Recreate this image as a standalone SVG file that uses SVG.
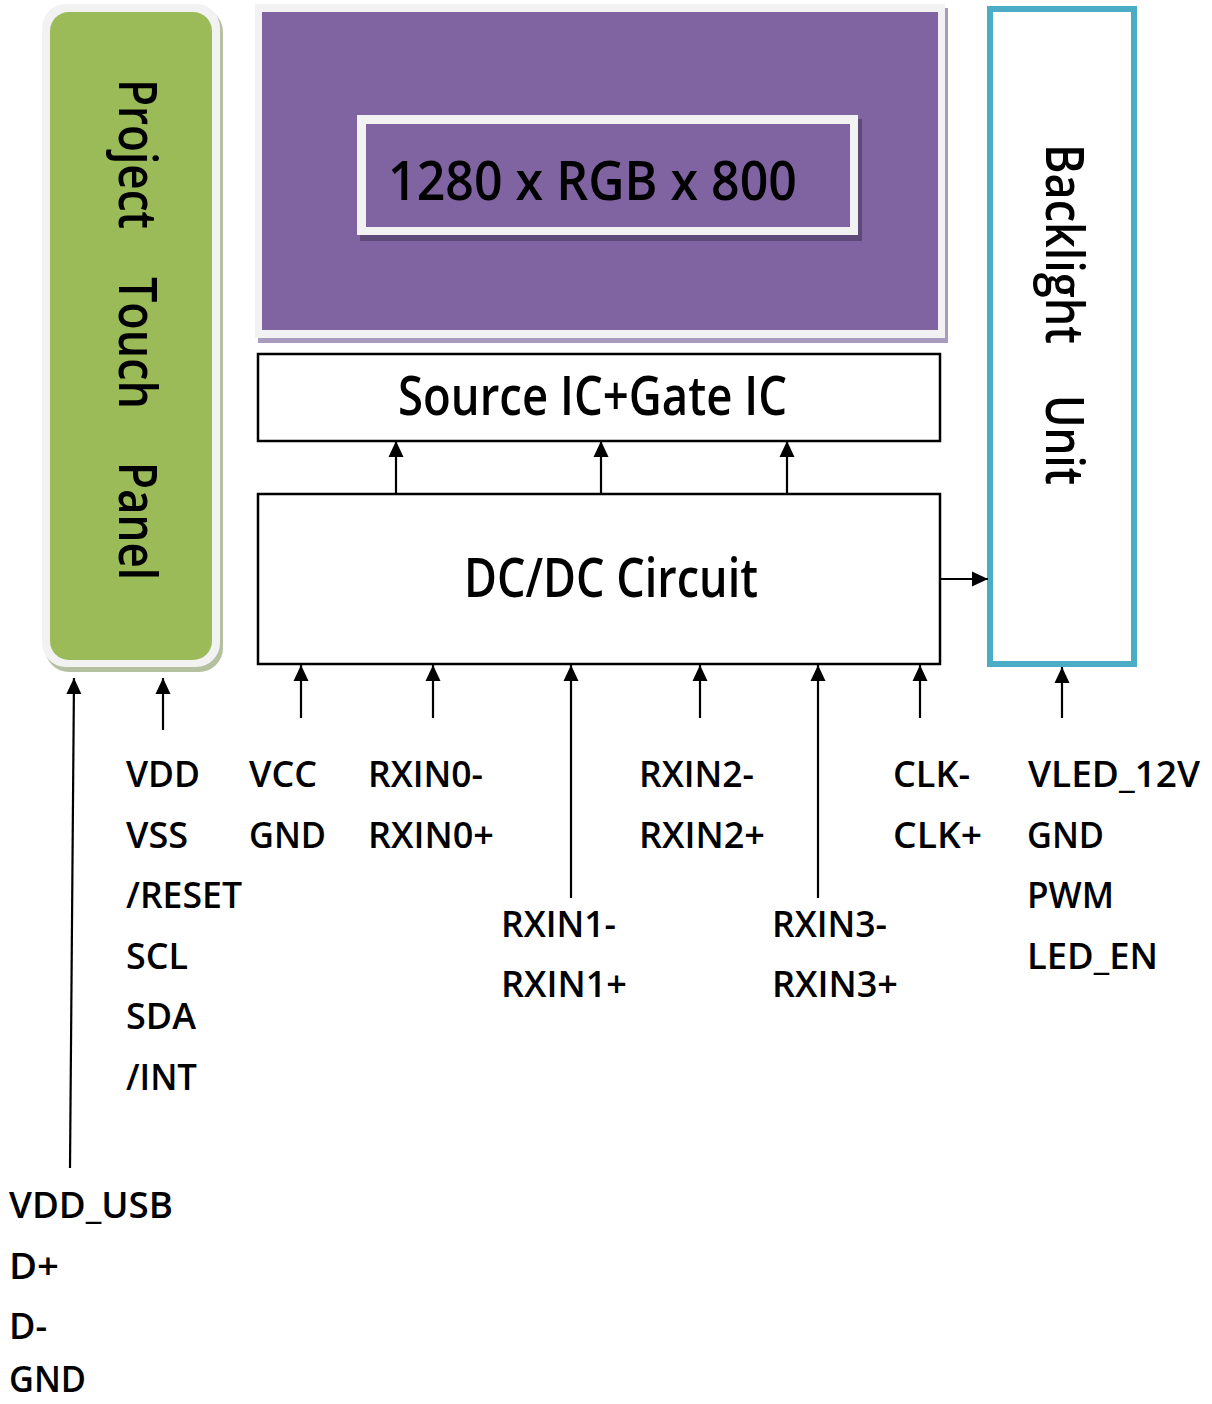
<svg xmlns="http://www.w3.org/2000/svg" width="1212" height="1404" viewBox="0 0 1212 1404">
<style>
.lbl{font-family:"Open Sans","Liberation Sans",sans-serif;font-size:36px;font-weight:600;fill:#000}
.big{font-family:"Open Sans","Liberation Sans",sans-serif;font-size:55px;font-weight:600;fill:#000}
.rot{font-family:"Open Sans","Liberation Sans",sans-serif;font-size:53px;font-weight:600;fill:#000}
.box{fill:#fff;stroke:#000;stroke-width:2.5}
.conn line{stroke:#000;stroke-width:2.2}
</style>
<defs>
<marker id="ah" markerUnits="userSpaceOnUse" markerWidth="16" markerHeight="16" refX="16" refY="7.5" orient="auto" viewBox="0 0 16 15">
<path d="M0,0 L16,7.5 L0,15 z" fill="#000"/>
</marker>
</defs>
<rect width="1212" height="1404" fill="#fff"/>

<g id="touch-panel">
<rect x="45" y="8" width="178" height="664" rx="24" fill="#b4c0a0"/>
<rect x="42" y="4" width="178" height="663" rx="24" fill="#f2f2f2"/>
<rect x="50" y="12" width="162" height="648" rx="19" fill="#9bbb59"/>
<text class="rot" transform="translate(119,79) rotate(90)" textLength="150" lengthAdjust="spacingAndGlyphs">Project</text>
<text class="rot" transform="translate(119,277) rotate(90)" textLength="132" lengthAdjust="spacingAndGlyphs">Touch</text>
<text class="rot" transform="translate(119,462) rotate(90)" textLength="118" lengthAdjust="spacingAndGlyphs">Panel</text>
</g>

<g id="lcd-panel">
<rect x="258" y="8" width="690" height="335" fill="#a99bbd"/>
<rect x="255" y="4" width="690" height="334" fill="#f2f2f2"/>
<rect x="262" y="12" width="676" height="318" fill="#8064a2"/>
<rect x="360" y="119" width="502" height="122" fill="#5d4a78"/>
<rect x="357" y="115" width="501" height="120" fill="#f2f2f2"/>
<rect x="366" y="124" width="484" height="103" fill="#8064a2"/>
<text class="big" x="388" y="200" textLength="409" lengthAdjust="spacingAndGlyphs">1280 x RGB x 800</text>
</g>

<g id="source-gate-ic">
<rect class="box" x="258" y="354" width="682" height="87"/>
<text class="big" x="398" y="415" textLength="389" lengthAdjust="spacingAndGlyphs">Source IC+Gate IC</text>
</g>

<g id="dcdc-circuit">
<rect class="box" x="258" y="494" width="682" height="170"/>
<text class="big" x="464" y="597" textLength="294" lengthAdjust="spacingAndGlyphs">DC/DC Circuit</text>
</g>

<g id="backlight-unit">
<rect x="990" y="9" width="144" height="655" fill="#fff" stroke="#4bacc6" stroke-width="6"/>
<text class="rot" transform="translate(1046,144) rotate(90)" textLength="200" lengthAdjust="spacingAndGlyphs">Backlight</text>
<text class="rot" transform="translate(1046,395) rotate(90)" textLength="90" lengthAdjust="spacingAndGlyphs">Unit</text>
</g>

<g id="connectors" class="conn">
<line x1="396" y1="494" x2="396" y2="441" marker-end="url(#ah)"/>
<line x1="601" y1="494" x2="601" y2="441" marker-end="url(#ah)"/>
<line x1="787" y1="494" x2="787" y2="441" marker-end="url(#ah)"/>
<line x1="940" y1="579" x2="988" y2="579" marker-end="url(#ah)"/>
<line x1="301" y1="718" x2="301" y2="665" marker-end="url(#ah)"/>
<line x1="433" y1="718" x2="433" y2="665" marker-end="url(#ah)"/>
<line x1="571" y1="898" x2="571" y2="665" marker-end="url(#ah)"/>
<line x1="700" y1="718" x2="700" y2="665" marker-end="url(#ah)"/>
<line x1="818" y1="898" x2="818" y2="665" marker-end="url(#ah)"/>
<line x1="920" y1="718" x2="920" y2="665" marker-end="url(#ah)"/>
<line x1="1062" y1="718" x2="1062" y2="667" marker-end="url(#ah)"/>
<line x1="163" y1="730" x2="163" y2="678" marker-end="url(#ah)"/>
<line x1="70" y1="1168" x2="74" y2="678" marker-end="url(#ah)"/>
</g>

<g id="labels">
<text class="lbl" x="126" y="787" textLength="74" lengthAdjust="spacingAndGlyphs">VDD</text>
<text class="lbl" x="126" y="847.5" textLength="62" lengthAdjust="spacingAndGlyphs">VSS</text>
<text class="lbl" x="126" y="908" textLength="116" lengthAdjust="spacingAndGlyphs">/RESET</text>
<text class="lbl" x="126" y="968.5" textLength="62" lengthAdjust="spacingAndGlyphs">SCL</text>
<text class="lbl" x="126" y="1029" textLength="70" lengthAdjust="spacingAndGlyphs">SDA</text>
<text class="lbl" x="126" y="1089.5" textLength="71" lengthAdjust="spacingAndGlyphs">/INT</text>
<text class="lbl" x="249" y="787" textLength="68" lengthAdjust="spacingAndGlyphs">VCC</text>
<text class="lbl" x="249" y="847.5" textLength="77" lengthAdjust="spacingAndGlyphs">GND</text>
<text class="lbl" x="368" y="787" textLength="115" lengthAdjust="spacingAndGlyphs">RXIN0-</text>
<text class="lbl" x="368" y="847.5" textLength="126" lengthAdjust="spacingAndGlyphs">RXIN0+</text>
<text class="lbl" x="501" y="936.5" textLength="115" lengthAdjust="spacingAndGlyphs">RXIN1-</text>
<text class="lbl" x="501" y="997" textLength="126" lengthAdjust="spacingAndGlyphs">RXIN1+</text>
<text class="lbl" x="639" y="787" textLength="115" lengthAdjust="spacingAndGlyphs">RXIN2-</text>
<text class="lbl" x="639" y="847.5" textLength="126" lengthAdjust="spacingAndGlyphs">RXIN2+</text>
<text class="lbl" x="772" y="936.5" textLength="115" lengthAdjust="spacingAndGlyphs">RXIN3-</text>
<text class="lbl" x="772" y="997" textLength="126" lengthAdjust="spacingAndGlyphs">RXIN3+</text>
<text class="lbl" x="893" y="787" textLength="77" lengthAdjust="spacingAndGlyphs">CLK-</text>
<text class="lbl" x="893" y="847.5" textLength="89" lengthAdjust="spacingAndGlyphs">CLK+</text>
<text class="lbl" x="1028" y="787" textLength="172" lengthAdjust="spacingAndGlyphs">VLED_12V</text>
<text class="lbl" x="1027" y="847.5" textLength="77" lengthAdjust="spacingAndGlyphs">GND</text>
<text class="lbl" x="1027" y="908" textLength="87" lengthAdjust="spacingAndGlyphs">PWM</text>
<text class="lbl" x="1027" y="968.5" textLength="131" lengthAdjust="spacingAndGlyphs">LED_EN</text>
<text class="lbl" x="9" y="1218" textLength="164" lengthAdjust="spacingAndGlyphs">VDD_USB</text>
<text class="lbl" x="9" y="1278.5" textLength="50" lengthAdjust="spacingAndGlyphs">D+</text>
<text class="lbl" x="9" y="1339" textLength="38" lengthAdjust="spacingAndGlyphs">D-</text>
<text class="lbl" x="9" y="1392" textLength="77" lengthAdjust="spacingAndGlyphs">GND</text>
</g>
</svg>
